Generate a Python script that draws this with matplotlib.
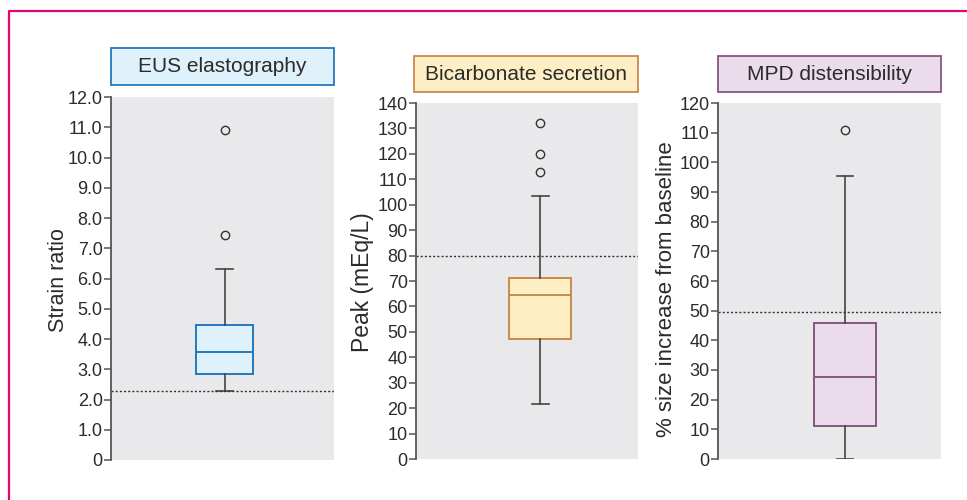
import matplotlib.pyplot as plt
from matplotlib.patches import Rectangle
from matplotlib.lines import Line2D

plt.rcParams["font.family"] = ["Liberation Sans", "DejaVu Sans"]

W, H = 967, 500

titles = ["EUS elastography", "Bicarbonate secretion", "MPD distensibility"]
ylabels = ["Strain ratio", "Peak (mEq/L)", "% size increase from baseline"]

# box stats: whislo, q1, med, q3, whishi
eus_stats = [2.28, 2.85, 3.57, 4.45, 6.3]
bicarb_stats = [21.5, 47.0, 64.5, 71.0, 103.5]
mpd_stats = [0.0, 11.0, 27.5, 46.0, 95.5]
eus_fliers = [7.45, 10.9]
bicarb_fliers = [113, 120, 132]
mpd_fliers = [111]
cutoffs = [2.28, 80, 49.5]

y_max = [12, 140, 120]
y_step = [1, 10, 10]

# pixel layout: axes (left, top, right, bottom), title box (left, top, right, bottom)
axes_px = [(111, 97, 334, 460), (416, 103, 638, 459), (718, 103, 941, 459)]
title_px = [(111, 48, 334, 85), (414, 56, 638, 92), (718, 56, 941, 92)]
box_pos = [1.02, 1.12, 1.14]
box_w = [0.51, 0.556, 0.556]
ylabel_xy = [(58, 280), (363, 282), (667, 289)]
ylabel_size = [15.5, 16.5, 16]

fills = ["#dff1fa", "#fdeec4", "#eadcea"]
edges = ["#2378bd", "#c88a4c", "#86577f"]

stats_all = [eus_stats, bicarb_stats, mpd_stats]
fliers_all = [eus_fliers, bicarb_fliers, mpd_fliers]

fig = plt.figure(figsize=(W / 100, H / 100), dpi=100)

# magenta frame (left + top)
fig.add_artist(Line2D([9 / W, 9 / W, 1], [0, 1 - 11 / H, 1 - 11 / H],
                      transform=fig.transFigure, color="#e2066f", lw=1.6))

for i in range(3):
    l, t, r, b = axes_px[i]
    ax = fig.add_axes([l / W, 1 - b / H, (r - l) / W, (b - t) / H])
    ax.set_facecolor("#e9e9eb")
    for s in ["top", "right", "bottom"]:
        ax.spines[s].set_visible(False)
    ax.spines["left"].set_color("#555555")
    ax.spines["left"].set_linewidth(1.3)

    lo, q1, med, q3, hi = stats_all[i]
    st = [dict(whislo=lo, q1=q1, med=med, q3=q3, whishi=hi, fliers=fliers_all[i])]
    ax.bxp(st, positions=[box_pos[i]], widths=box_w[i], capwidths=0.15,
           patch_artist=True,
           boxprops=dict(facecolor=fills[i], edgecolor=edges[i], linewidth=1.4),
           medianprops=dict(color=edges[i], linewidth=1.4),
           whiskerprops=dict(color="#444444", linewidth=1.2),
           capprops=dict(color="#444444", linewidth=1.2),
           flierprops=dict(marker="o", markersize=6, markerfacecolor="none",
                           markeredgecolor="#333333", markeredgewidth=1.0))
    ax.axhline(cutoffs[i], color="#333333", lw=1.0, ls=(0, (1.5, 1.5)))

    ax.set_xlim(0, 2)
    ax.set_ylim(0, y_max[i])
    ticks = list(range(0, y_max[i] + 1, y_step[i]))
    ax.set_yticks(ticks)
    if i == 0:
        ax.set_yticklabels(["0"] + [f"{v:.1f}" for v in ticks[1:]])
    ax.set_xticks([])
    ax.tick_params(axis="y", direction="out", length=5, width=1.1,
                   color="#555555", labelsize=13, labelcolor="#2b2b2b", pad=1)

    lx, ly = ylabel_xy[i]
    fig.text(lx / W, 1 - ly / H, ylabels[i], rotation=90,
             ha="center", va="center", fontsize=ylabel_size[i], color="#2b2b2b")

    tl, tt, tr, tb = title_px[i]
    fig.add_artist(Rectangle((tl / W, 1 - tb / H), (tr - tl) / W, (tb - tt) / H,
                             transform=fig.transFigure, facecolor=fills[i],
                             edgecolor=edges[i], lw=1.3))
    fig.text((tl + tr) / 2 / W, 1 - (tt + tb) / 2 / H, titles[i],
             ha="center", va="center", fontsize=15, color="#2b2b2b")

fig.savefig("out.png", dpi=100)
